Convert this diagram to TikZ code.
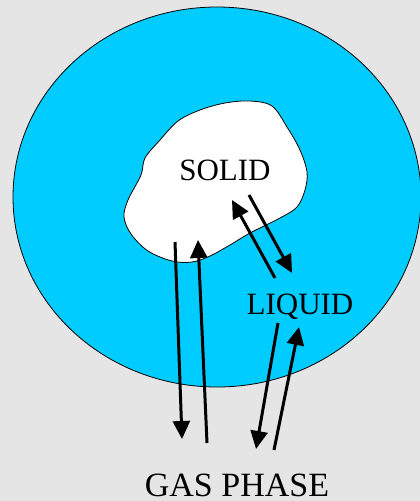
\documentclass[tikz,border=0pt]{standalone}
\usepackage{fontspec}
\setmainfont{Liberation Serif}
\usepackage{xcolor}
\definecolor{PhaseGray}{RGB}{229,229,229}
\definecolor{LiquidCyan}{RGB}{0,204,255}
\usepackage{tikz}
\usetikzlibrary{arrows.meta}

\tikzset{
  flux/.style={line width=3pt, -{Triangle[length=18pt,width=17pt]}},
  phase/.style={font=\fontsize{31}{31}\selectfont, inner sep=0pt},
}

\begin{document}
\begin{tikzpicture}[x=1pt, y=-1pt]
			% Fondo / Background
			\useasboundingbox (0,0) rectangle (420,501);
			\clip (0,0) rectangle (420,501);
			\fill[PhaseGray] (0,0) rectangle (420,501);
			% Gota de liquido / Liquid drop
			\draw[fill=LiquidCyan, draw=black, line width=0.8pt] (217,197) ellipse (204 and 190);
			% Solido / Solid
			\draw[fill=white, draw=black, line width=0.8pt] plot[smooth cycle, tension=0.55] coordinates {
				(145,158) (141,175) (128,200) (124,217) (131,234) (148,251) (172,261)
				(192,262) (210,256) (230,245) (250,233) (280,218) (297,207) (305,190)
				(307,172) (300,150) (287,127) (272,106) (250,101) (225,103) (200,110)
				(178,121) (160,140)};
			% Etiquetas / Labels
			\node[phase] (solid) at (225,170) {SOLID};
			\node[phase] (liquid) at (300,307) {LIQUID};
			\node[phase, font=\fontsize{34}{34}\selectfont, anchor=base] (gas) at (237,496) {GAS PHASE};
			% Extremos / End points
			\coordinate (s1) at (175,242); \coordinate (g1) at (182,439);
			\coordinate (g2) at (207,443); \coordinate (s2) at (198,240);
			\coordinate (l3) at (275,278); \coordinate (s3) at (232,200);
			\coordinate (s4) at (249,195); \coordinate (l4) at (292,273);
			\coordinate (l5) at (278,323); \coordinate (g5) at (256,449);
			\coordinate (g6) at (274,450); \coordinate (l6) at (299,327);
			% Flechas / Arrows
			\draw[flux] (s1) -- (g1);
			\draw[flux] (g2) -- (s2);
			\draw[flux] (l3) -- (s3);
			\draw[flux] (s4) -- (l4);
			\draw[flux] (l5) -- (g5);
			\draw[flux] (g6) -- (l6);
			\end{tikzpicture}
\end{document}
